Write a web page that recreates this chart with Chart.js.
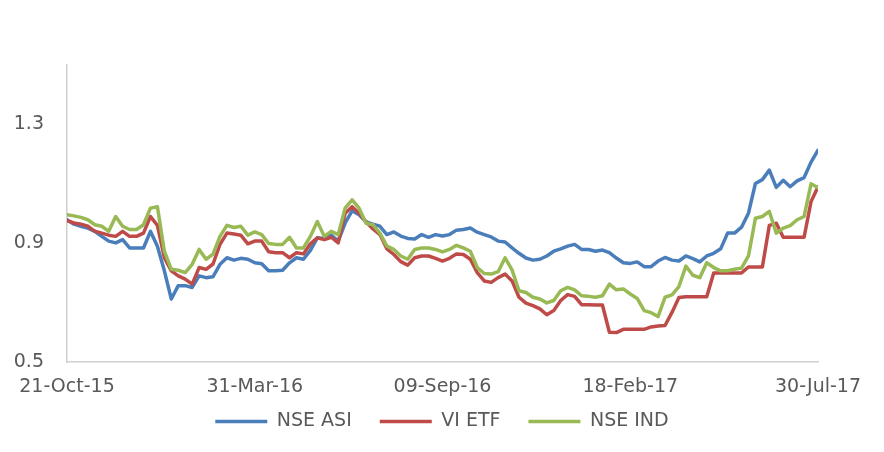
<!DOCTYPE html>
<html>
<head>
<meta charset="utf-8">
<script src="https://cdn.jsdelivr.net/npm/chart.js@4.4.1/dist/chart.umd.min.js"></script>
<style>
  html, body { margin: 0; padding: 0; background: #fff; }
  #wrap { width: 884px; height: 452px; }
</style>
</head>
<body>
<div id="wrap"><canvas id="idxChart"></canvas></div>
<script>
'use strict';

// sampled every 6 calendar days from 21-Oct-15 to 30-Jul-17
const STEP_DAYS = 6;
const TICK_DAYS = 162;
const SERIES_NAMES = ['NSE ASI', 'VI ETF', 'NSE IND'];

const NSE_ASI = [
  0.979, 0.964, 0.957, 0.951, 0.940, 0.923, 0.907, 0.901, 0.912, 0.884,
  0.884, 0.884, 0.940, 0.890, 0.807, 0.712, 0.757, 0.757, 0.751, 0.790,
  0.784, 0.787, 0.829, 0.851, 0.843, 0.849, 0.846, 0.834, 0.831, 0.807,
  0.807, 0.809, 0.834, 0.851, 0.846, 0.876, 0.918, 0.916, 0.927, 0.907,
  0.968, 1.009, 0.996, 0.972, 0.964, 0.957, 0.929, 0.938, 0.924, 0.916,
  0.914, 0.929, 0.920, 0.929, 0.924, 0.929, 0.944, 0.946, 0.951, 0.937,
  0.929, 0.921, 0.907, 0.904, 0.884, 0.866, 0.850, 0.843, 0.846, 0.857,
  0.873, 0.881, 0.890, 0.896, 0.879, 0.879, 0.873, 0.877, 0.868, 0.850,
  0.834, 0.832, 0.837, 0.821, 0.821, 0.840, 0.852, 0.843, 0.840, 0.857,
  0.848, 0.837, 0.857, 0.866, 0.881, 0.934, 0.934, 0.954, 1.001, 1.101,
  1.114, 1.146, 1.088, 1.112, 1.090, 1.110, 1.121, 1.173, 1.213
];

const VI_ETF = [
  0.976, 0.968, 0.964, 0.957, 0.940, 0.934, 0.927, 0.923, 0.940, 0.923,
  0.923, 0.934, 0.990, 0.960, 0.851, 0.807, 0.790, 0.779, 0.762, 0.818,
  0.812, 0.830, 0.896, 0.934, 0.931, 0.927, 0.898, 0.907, 0.907, 0.871,
  0.868, 0.868, 0.851, 0.868, 0.864, 0.898, 0.918, 0.912, 0.920, 0.901,
  1.001, 1.023, 1.001, 0.972, 0.948, 0.929, 0.881, 0.862, 0.838, 0.826,
  0.851, 0.857, 0.857, 0.849, 0.840, 0.849, 0.864, 0.862, 0.846, 0.801,
  0.773, 0.768, 0.784, 0.796, 0.773, 0.718, 0.698, 0.690, 0.679, 0.659,
  0.673, 0.707, 0.727, 0.721, 0.693, 0.693, 0.692, 0.692, 0.600, 0.599,
  0.610, 0.610, 0.610, 0.610, 0.618, 0.621, 0.623, 0.667, 0.717, 0.720,
  0.720, 0.720, 0.720, 0.800, 0.800, 0.800, 0.800, 0.800, 0.820, 0.820,
  0.820, 0.960, 0.967, 0.920, 0.920, 0.920, 0.920, 1.040, 1.090
];

const NSE_IND = [
  0.996, 0.992, 0.987, 0.979, 0.962, 0.957, 0.940, 0.990, 0.957, 0.946,
  0.946, 0.962, 1.018, 1.023, 0.873, 0.812, 0.809, 0.801, 0.829, 0.879,
  0.846, 0.863, 0.923, 0.960, 0.953, 0.957, 0.927, 0.938, 0.929, 0.899,
  0.896, 0.896, 0.920, 0.884, 0.884, 0.923, 0.973, 0.923, 0.940, 0.929,
  1.018, 1.046, 1.018, 0.967, 0.962, 0.934, 0.890, 0.879, 0.857, 0.846,
  0.879, 0.884, 0.884, 0.879, 0.871, 0.879, 0.893, 0.884, 0.873, 0.818,
  0.798, 0.796, 0.804, 0.851, 0.810, 0.740, 0.734, 0.718, 0.712, 0.699,
  0.707, 0.740, 0.751, 0.743, 0.723, 0.721, 0.718, 0.723, 0.762, 0.743,
  0.746, 0.729, 0.714, 0.673, 0.666, 0.653, 0.718, 0.726, 0.754, 0.823,
  0.792, 0.784, 0.834, 0.818, 0.807, 0.807, 0.812, 0.816, 0.857, 0.984,
  0.990, 1.007, 0.934, 0.951, 0.959, 0.979, 0.990, 1.100, 1.087
];

const Y_TICKS = [0.5, 0.9, 1.3];
const START_DATE = new Date(2015, 9, 21);
const MONTHS = ['Jan', 'Feb', 'Mar', 'Apr', 'May', 'Jun', 'Jul', 'Aug', 'Sep', 'Oct', 'Nov', 'Dec'];

const COLORS = ['#4a7ebb', '#be4b48', '#98b954'];
const FONT = { family: "'DejaVu Sans', Verdana, sans-serif", size: 19 };

function dayLabel(d) {
  const dt = new Date(START_DATE.getFullYear(), START_DATE.getMonth(), START_DATE.getDate() + d);
  const dd = String(dt.getDate()).padStart(2, '0');
  return dd + '-' + MONTHS[dt.getMonth()] + '-' + String(dt.getFullYear()).slice(2);
}

function toPoints(arr) {
  return arr.map((v, i) => ({ x: i * STEP_DAYS, y: v }));
}

const lastDay = (NSE_ASI.length - 1) * STEP_DAYS;

new Chart(document.getElementById('idxChart').getContext('2d'), {
  type: 'line',
  data: {
    datasets: [NSE_ASI, VI_ETF, NSE_IND].map((arr, k) => ({
      label: SERIES_NAMES[k],
      data: toPoints(arr),
      borderColor: COLORS[k],
      backgroundColor: COLORS[k],
      borderWidth: 3.5,
      borderCapStyle: 'round',
      borderJoinStyle: 'round',
      pointRadius: 0,
      tension: 0,
      fill: false,
      order: 3 - k,
    })),
  },
  options: {
    responsive: true,
    maintainAspectRatio: false,
    animation: false,
    layout: { padding: { left: 0, top: 65, right: 0, bottom: 11 } },
    plugins: {
      tooltip: { enabled: false },
      legend: {
        position: 'bottom',
        labels: {
          usePointStyle: true,
          pointStyle: 'line',
          pointStyleWidth: 52,
          padding: 28,
          color: '#595959',
          font: FONT,
          sort: (a, b) => a.datasetIndex - b.datasetIndex,
        },
      },
    },
    scales: {
      x: {
        type: 'linear',
        min: 0,
        max: lastDay,
        afterFit: s => { s.height = 22; },
        afterBuildTicks: s => {
          s.ticks = [];
          for (let d = 0; d <= lastDay; d += TICK_DAYS) s.ticks.push({ value: d });
        },
        grid: { display: false, drawTicks: false },
        border: { display: true, color: '#d0d0d0', width: 1.5 },
        ticks: {
          color: '#595959',
          font: FONT,
          mirror: true,
          padding: -36,
          maxRotation: 0,
          autoSkip: false,
          callback: v => dayLabel(v),
        },
      },
      y: {
        min: 0.5,
        max: 1.5,
        afterFit: s => { s.width = 67; },
        afterBuildTicks: s => { s.ticks = Y_TICKS.map(v => ({ value: v })); },
        grid: { display: false, drawTicks: false },
        border: { display: true, color: '#d0d0d0', width: 1.5 },
        ticks: {
          color: '#595959',
          font: FONT,
          padding: 23,
          callback: v => v.toFixed(1),
        },
      },
      // empty right-hand gutter so the legend stays centred on the full width
      gutter: {
        type: 'linear',
        position: 'right',
        afterFit: s => { s.width = 66; },
        grid: { display: false, drawTicks: false },
        border: { display: false },
        ticks: { display: false },
      },
    },
  },
});
</script>
</body>
</html>
